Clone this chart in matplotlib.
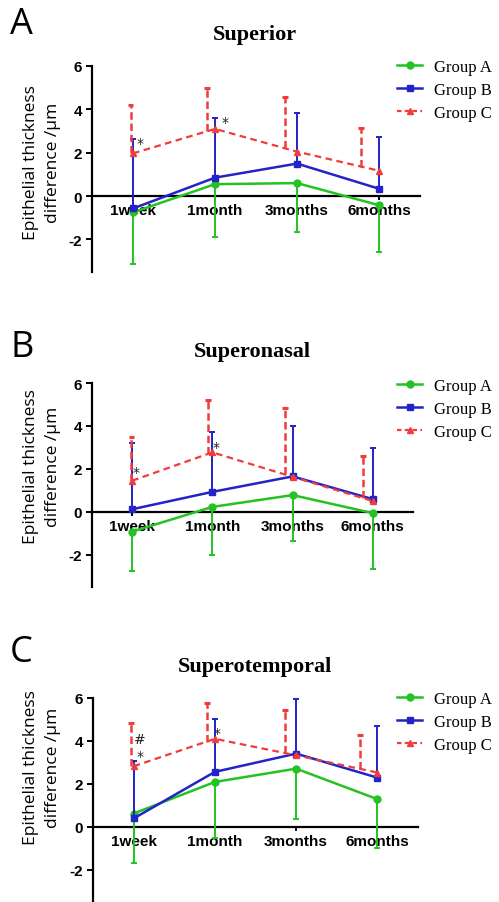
import numpy as np
import matplotlib
matplotlib.use("Agg")
import matplotlib.pyplot as plt
from matplotlib.lines import Line2D

# time points
timepoints = ["1week", "1month", "3months", "6months"]
x = np.arange(1, 5)

# Superior
sup_a = [-0.75, 0.55, 0.6, -0.42]
sup_a_lo = [-3.15, -1.9, -1.65, -2.6]
sup_b = [-0.57, 0.85, 1.5, 0.34]
sup_b_hi = [2.65, 3.58, 3.85, 2.72]
sup_c = [1.97, 3.1, 2.05, 1.17]
sup_c_hi = [4.18, 4.97, 4.58, 3.12]
sup_c_shift = [-0.03, -0.094, -0.15, -0.22]

# Superonasal
nas_a = [-0.92, 0.23, 0.78, -0.06]
nas_a_lo = [-2.76, -2.0, -1.36, -2.68]
nas_b = [0.12, 0.93, 1.65, 0.59]
nas_b_hi = [3.2, 3.7, 4.0, 2.96]
nas_c = [1.45, 2.77, 1.63, 0.5]
nas_c_hi = [3.5, 5.23, 4.83, 2.59]
nas_c_shift = [-0.01, -0.054, -0.096, -0.125]

# Superotemporal
tem_a = [0.62, 2.09, 2.71, 1.29]
tem_a_lo = [-1.67, -0.51, 0.36, -0.98]
tem_b = [0.39, 2.56, 3.41, 2.29]
tem_b_hi = [3.05, 5.0, 5.94, 4.68]
tem_c = [2.82, 4.1, 3.33, 2.53]
tem_c_hi = [4.85, 5.78, 5.46, 4.26]
tem_c_shift = [-0.03, -0.1, -0.14, -0.21]

green = "#22c322"
blue = "#2323c8"
red = "#f03c3c"

W, H = 499, 903
fig = plt.figure(figsize=(W / 100, H / 100), dpi=100)


def px_axes(x0, x1, y0, y1):
    # pixel box -> figure axes
    return fig.add_axes([x0 / W, 1 - y1 / H, (x1 - x0) / W, (y1 - y0) / H])


def draw_panel(ax, a, a_lo, b, b_hi, c, c_hi, c_shift, marks, leg_top):
    a = np.array(a); b = np.array(b); c = np.array(c)
    # group A, lower error only
    ax.errorbar(x, a, yerr=[a - np.array(a_lo), np.zeros(4)], color=green,
                lw=1.8, marker="o", ms=5, elinewidth=1.4, capsize=2,
                capthick=1.4, zorder=3)
    # group B, upper error only
    ax.errorbar(x, b, yerr=[np.zeros(4), np.array(b_hi) - b], color=blue,
                lw=1.8, marker="s", ms=5, elinewidth=1.4, capsize=2,
                capthick=1.4, zorder=4)
    # group C, dashed, error bars drawn slightly left
    ax.plot(x, c, color=red, lw=1.6, ls=(0, (3, 2)), marker="^", ms=5, zorder=5)
    xs = x + np.array(c_shift)
    base = np.interp(xs, x, c)
    ax.vlines(xs, base, c_hi, color=red, lw=1.8, linestyles=(0, (3, 1.5)), zorder=5)
    ax.hlines(c_hi, xs - 0.035, xs + 0.035, color=red, lw=2.2, zorder=5)
    for xm, ym, s in marks:
        ax.text(xm, ym, s, fontsize=10, ha="center", va="center", color="#222222")

    ax.set_xlim(0.5, 4.5)
    ax.set_ylim(-3.5, 6)
    ax.spines["top"].set_visible(False)
    ax.spines["right"].set_visible(False)
    ax.spines["bottom"].set_position(("data", 0))
    ax.spines["left"].set_linewidth(1.6)
    ax.spines["bottom"].set_linewidth(1.6)
    ax.set_xticks(x)
    ax.set_xticklabels(timepoints, fontsize=11, fontweight="bold",
                       family="Liberation Sans")
    ax.set_yticks([-2, 0, 2, 4, 6])
    ax.set_yticklabels(["-2", "0", "2", "4", "6"], fontsize=11,
                       fontweight="bold", family="Liberation Sans")
    ax.tick_params(axis="x", length=3, width=1.4, pad=2)
    ax.tick_params(axis="y", length=4, width=1.4, pad=3)
    ax.patch.set_alpha(0)

    handles = [
        Line2D([], [], color=green, lw=1.8, marker="o", ms=5),
        Line2D([], [], color=blue, lw=1.8, marker="s", ms=5),
        Line2D([], [], color=red, lw=1.6, ls=(0, (2, 1.5)), marker="^", ms=5),
    ]
    ax.legend(handles, ["Group A", "Group B", "Group C"], loc="upper left",
              bbox_to_anchor=(397 / W, 1 - leg_top / H),
              bbox_transform=fig.transFigure, frameon=False,
              borderpad=0, borderaxespad=0, handlelength=1.5,
              handletextpad=0.7, labelspacing=0.42,
              prop={"family": "Liberation Serif", "size": 12})


ax1 = px_axes(92, 420, 67, 273)
draw_panel(ax1, sup_a, sup_a_lo, sup_b, sup_b_hi, sup_c, sup_c_hi, sup_c_shift,
           [(1.08, 2.45, "*"), (2.12, 3.4, "*")], 60)
ax2 = px_axes(92, 413, 384, 588)
draw_panel(ax2, nas_a, nas_a_lo, nas_b, nas_b_hi, nas_c, nas_c_hi, nas_c_shift,
           [(1.05, 1.85, "*"), (2.05, 3.0, "*")], 379)
ax3 = px_axes(93, 418, 699, 903)
draw_panel(ax3, tem_a, tem_a_lo, tem_b, tem_b_hi, tem_c, tem_c_hi, tem_c_shift,
           [(1.08, 4.1, "#"), (1.08, 3.3, "*"), (2.03, 4.35, "*")], 692)

# titles, panel letters, y labels
titles = ["Superior", "Superonasal", "Superotemporal"]
title_y = [35, 352, 667]
title_x = [255, 252, 255]
letters = ["A", "B", "C"]
letter_y = [25, 348, 653]
ylab_y = [163, 467, 768]

for t, tx, ty in zip(titles, title_x, title_y):
    fig.text(tx / W, 1 - ty / H, t, ha="center", va="center", fontsize=16,
             fontweight="bold", family="Liberation Serif")
for l, ly in zip(letters, letter_y):
    fig.text(10 / W, 1 - ly / H, l, ha="left", va="center", fontsize=26,
             family="Open Sans")
for ly in ylab_y:
    fig.text(42 / W, 1 - ly / H, "Epithelial thickness\ndifference /μm",
             rotation=90, ha="center", va="center", fontsize=12.5,
             family="Open Sans", linespacing=1.55, multialignment="center")

fig.savefig("out.png", dpi=100)
